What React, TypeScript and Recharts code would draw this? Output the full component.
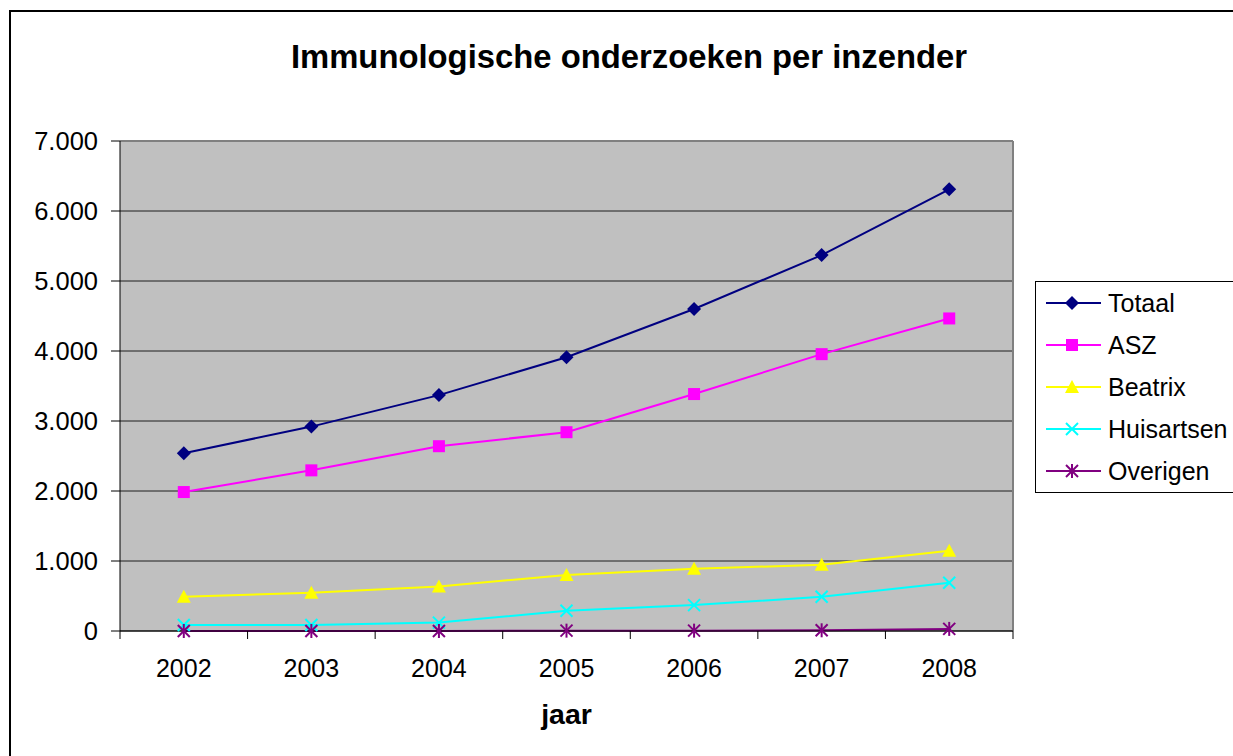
import React from 'react'
import { LineChart, Line, XAxis, YAxis, CartesianGrid, Legend, ReferenceLine } from 'recharts'

const years = [2002, 2003, 2004, 2005, 2006, 2007, 2008]
const totaal = [2540, 2920, 3370, 3910, 4600, 5370, 6310]
const asz = [1985, 2295, 2640, 2840, 3385, 3955, 4465]
const beatrix = [490, 545, 635, 800, 890, 945, 1145]
const huisartsen = [85, 85, 120, 290, 370, 490, 690]
const overigen = [0, 0, 0, 5, 5, 10, 30]
const yTicks = [0, 1000, 2000, 3000, 4000, 5000, 6000, 7000]

const data = years.map((year, i) => ({
  year,
  Totaal: totaal[i],
  ASZ: asz[i],
  Beatrix: beatrix[i],
  Huisartsen: huisartsen[i],
  Overigen: overigen[i]
}))

// tick marks sit between the years, labels on the years
const xTicks = [...years.map((y) => y - 0.5), years[years.length - 1] + 0.5, ...years].sort((a, b) => a - b)

type Marker = (cx: number, cy: number) => React.ReactNode

const diamond = (color: string): Marker => (cx, cy) => (
  <polygon points={`${cx},${cy - 7} ${cx + 7},${cy} ${cx},${cy + 7} ${cx - 7},${cy}`} fill={color} />
)
const square = (color: string): Marker => (cx, cy) => (
  <rect x={cx - 6} y={cy - 6} width={12} height={12} fill={color} />
)
const triangle = (color: string): Marker => (cx, cy) => (
  <polygon points={`${cx},${cy - 7} ${cx + 7},${cy + 6} ${cx - 7},${cy + 6}`} fill={color} />
)
const cross = (color: string): Marker => (cx, cy) => (
  <g stroke={color} strokeWidth={2}>
    <line x1={cx - 6} y1={cy - 6} x2={cx + 6} y2={cy + 6} />
    <line x1={cx - 6} y1={cy + 6} x2={cx + 6} y2={cy - 6} />
  </g>
)
const star = (color: string): Marker => (cx, cy) => (
  <g stroke={color} strokeWidth={2}>
    <line x1={cx - 6} y1={cy - 6} x2={cx + 6} y2={cy + 6} />
    <line x1={cx - 6} y1={cy + 6} x2={cx + 6} y2={cy - 6} />
    <line x1={cx} y1={cy - 7} x2={cx} y2={cy + 7} />
  </g>
)

const series = [
  { key: 'Totaal', color: '#000080', marker: diamond('#000080') },
  { key: 'ASZ', color: '#ff00ff', marker: square('#ff00ff') },
  { key: 'Beatrix', color: '#ffff00', marker: triangle('#ffff00') },
  { key: 'Huisartsen', color: '#00ffff', marker: cross('#00ffff') },
  { key: 'Overigen', color: '#800080', marker: star('#800080') }
]

const formatThousands = (v: number) => String(v).replace(/\B(?=(\d{3})+(?!\d))/g, '.')

const YearTick = (props: any) => {
  const { x, y, payload } = props
  if (!Number.isInteger(payload.value)) {
    return <line x1={x} x2={x} y1={y} y2={y + 8} stroke="#000" strokeWidth={1} />
  }
  return (
    <text x={x} y={y + 46} textAnchor="middle" fill="#000" fontSize={25}>
      {payload.value}
    </text>
  )
}

// legend box runs off the right edge, so no right border
const LegendBox = () => (
  <div
    style={{
      borderTop: '1px solid #000',
      borderLeft: '1px solid #000',
      borderBottom: '1px solid #000',
      background: '#fff',
      width: 240,
      boxSizing: 'border-box'
    }}
  >
    {series.map((s) => (
      <div key={s.key} style={{ display: 'flex', alignItems: 'center', height: 42 }}>
        <svg width={70} height={20} style={{ flex: 'none' }}>
          <line x1={10} x2={65} y1={10} y2={10} stroke={s.color} strokeWidth={2} />
          {s.marker(36, 10)}
        </svg>
        <span style={{ fontSize: 25, marginLeft: 2, color: '#000', whiteSpace: 'nowrap' }}>{s.key}</span>
      </div>
    ))}
  </div>
)

export default function App() {
  return (
    <div
      style={{
        position: 'fixed',
        left: 0,
        top: 0,
        width: 1233,
        height: 756,
        overflow: 'hidden',
        background: '#fff',
        fontFamily: '"Liberation Sans", Arial, sans-serif'
      }}
    >
      <div
        style={{
          position: 'absolute',
          left: 9,
          top: 10,
          width: 1300,
          height: 800,
          borderTop: '2px solid #000',
          borderLeft: '2px solid #000',
          boxSizing: 'border-box'
        }}
      />
      <div
        style={{
          position: 'absolute',
          left: 0,
          top: 41,
          width: 1258,
          textAlign: 'center',
          fontSize: 32.8,
          fontWeight: 'bold',
          lineHeight: '32px',
          color: '#000'
        }}
      >
        Immunologische onderzoeken per inzender
      </div>
      <div style={{ position: 'absolute', left: 0, top: 0 }}>
        <LineChart width={1233} height={756} data={data} margin={{ top: 141, right: 220, left: 0, bottom: 0 }}>
          <CartesianGrid vertical={false} horizontal fill="#c0c0c0" stroke="#000" strokeOpacity={0.85} />
          <ReferenceLine y={7000} stroke="#808080" strokeWidth={2} />
          <ReferenceLine x={2008.5} stroke="#808080" strokeWidth={2} />
          <XAxis
            dataKey="year"
            type="number"
            domain={[2001.5, 2008.5]}
            ticks={xTicks}
            interval={0}
            tickLine={false}
            tickSize={0}
            tickMargin={0}
            tick={<YearTick />}
            axisLine={{ stroke: '#000' }}
            height={125}
            label={{ value: 'jaar', position: 'insideBottom', offset: 32, fill: '#000', fontSize: 28.5, fontWeight: 'bold' }}
          />
          <YAxis
            width={120}
            domain={[0, 7000]}
            ticks={yTicks}
            interval={0}
            tickFormatter={formatThousands}
            tick={{ fill: '#000', fontSize: 25.5 }}
            tickSize={9}
            tickMargin={13}
            tickLine={{ stroke: '#000' }}
            axisLine={{ stroke: '#000' }}
          />
          <Legend
            layout="vertical"
            align="center"
            verticalAlign="middle"
            content={<LegendBox />}
            wrapperStyle={{ left: 1035, top: 281, width: 240 }}
          />
          {series.map((s) => (
            <Line
              key={s.key}
              type="linear"
              dataKey={s.key}
              stroke={s.color}
              strokeWidth={2}
              isAnimationActive={false}
              activeDot={false}
              dot={(p: any) => <g key={`${s.key}-${p.index}`}>{s.marker(p.cx, p.cy)}</g>}
            />
          ))}
        </LineChart>
      </div>
    </div>
  )
}
